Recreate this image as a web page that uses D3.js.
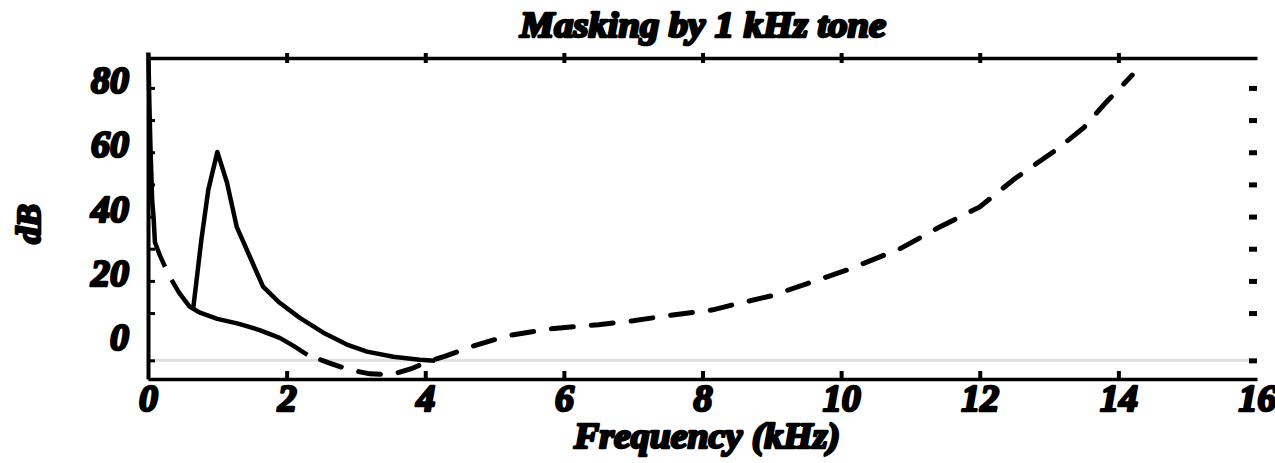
<!doctype html>
<html>
<head>
<meta charset="utf-8">
<title>Masking by 1 kHz tone</title>
<script src="https://cdnjs.cloudflare.com/ajax/libs/d3/7.8.5/d3.min.js"></script>
<style>
  body { margin: 0; background: #fff; }
  svg { display: block; }
  .lbl { font-family: "Liberation Serif", serif; font-weight: bold; font-style: italic; fill: #000; stroke: #000; stroke-width: 2.6px; stroke-linejoin: round; }
</style>
</head>
<body>
<svg id="chart" width="1275" height="463"></svg>
<script>
  /* DATA */
  var xTicks = [0, 2, 4, 6, 8, 10, 12, 14, 16];
  var xTickMarks = [2, 4, 6, 8, 10, 12, 14];
  var yTicks = [0, 20, 40, 60, 80];
  var yTickMarks = [10, 20, 30, 40, 50, 60, 70, 80];
  var greyLevel = -4.7;

  // threshold in quiet (null = gap in the drawn curve)
  var quietFreq = [0.005, 0.02, 0.035, 0.06, 0.08, 0.1, 0.17, 0.245, 0.29, 0.34, 0.45, 0.6, 0.75, 1.0, 1.3, 1.6, 1.9, 2.1, 2.3,
                   2.6, 2.9, 3.2, 3.5, 3.8, 4.0, 4.3, 4.7, 5.2, 5.8, 6.5, 7.0, 7.5, 8.15, 8.5, 9.0, 9.5, 10.1, 10.85, 11.4, 12.0,
                   12.5, 13.1, 13.5, 13.8, 14.2];
  var quietDb = [91, 75, 62, 45, 40, 32, 28, 24.4, null, 20.3, 16.3, 12.0, 10.1, 8.2, 6.7, 4.8, 2.3, -0.2, -3.0,
                 -5.4, -7.6, -8.9, -9.2, -7.3, -5.4, -3.3, -0.2, 3.0, 5.1, 6.4, 7.6, 9.2, 11.0, 12.9, 15.4, 19.1, 23.5, 30.0,
                 36.5, 43.0, 51.7, 60.7, 67.6, 75.0, 84.0];
  var dashFrom = 2.3;   // kHz where the threshold curve turns dashed

  // masking curve of the 1 kHz tone
  var maskFreq = [0.65, 0.77, 0.87, 1.0, 1.14, 1.28, 1.47, 1.66, 1.9, 2.19, 2.53, 2.87, 3.16, 3.54, 3.92, 4.14];
  var maskDb = [11.0, 32.8, 48.3, 60.1, 50.5, 36.8, 27.5, 18.2, 13.2, 8.5, 3.9, 0.2, -2.0, -3.6, -4.5, -4.8];

  var svg = d3.select("#chart");
  var pLeft = 148, pRight = 1257, pTop = 58, pBottom = 379;

  var x = d3.scaleLinear().domain([0, 16]).range([pLeft, pRight]);
  var y = d3.scaleLinear().domain([-10.5, 89.3]).range([pBottom, pTop]);

  // grey reference line
  svg.append("line")
    .attr("x1", x(0)).attr("x2", x(16) - 6)
    .attr("y1", y(greyLevel)).attr("y2", y(greyLevel))
    .style("stroke", "#e0e0e0").style("stroke-width", "3px");

  // bottom axis: line + tick marks
  var bx = svg.append("g").attr("transform", "translate(0," + y(-10.5) + ")")
    .call(d3.axisBottom(x).tickValues(xTickMarks).tickSize(-8).tickSizeOuter(0).tickFormat(""));
  bx.select(".domain").style("stroke", "#000").style("stroke-width", "3.5px");
  bx.selectAll(".tick line").style("stroke", "#000").style("stroke-width", "4px");

  // bottom labels
  var bl = svg.append("g").attr("transform", "translate(0," + y(-10.5) + ")")
    .call(d3.axisBottom(x).tickValues(xTicks).tickSize(0).tickPadding(5));
  bl.select(".domain").remove();
  bl.selectAll("text").attr("class", "lbl").style("font-size", "38px").attr("dy", "0.72em");

  // top axis
  var tx = svg.append("g").attr("transform", "translate(0," + y(89.3) + ")")
    .call(d3.axisTop(x).tickValues(xTickMarks).tickSize(5).tickSizeOuter(0).tickFormat(""));
  tx.select(".domain").style("stroke", "#000").style("stroke-width", "3.5px");
  tx.selectAll(".tick line").attr("y2", 5).attr("y1", -5).style("stroke", "#000").style("stroke-width", "4px");

  // left axis
  var lx = svg.append("g").attr("transform", "translate(" + x(0) + ",0)")
    .call(d3.axisLeft(y).tickValues(yTickMarks.concat([greyLevel])).tickSize(-7).tickSizeOuter(0).tickFormat(""));
  lx.select(".domain").style("stroke", "#000").style("stroke-width", "4px");
  lx.selectAll(".tick line").style("stroke", "#000").style("stroke-width", "3px");

  var ll = svg.append("g").attr("transform", "translate(" + x(0) + ",0)")
    .call(d3.axisLeft(y).tickValues(yTicks).tickSize(0).tickPadding(19));
  ll.select(".domain").remove();
  ll.selectAll("text").attr("class", "lbl").style("font-size", "38px").attr("dy", "0.12em");

  // right tick marks (no line)
  var rx = svg.append("g").attr("transform", "translate(" + x(16) + ",0)")
    .call(d3.axisRight(y).tickValues(yTickMarks.concat([greyLevel])).tickSize(-8).tickSizeOuter(0).tickFormat(""));
  rx.select(".domain").remove();
  rx.selectAll(".tick line").style("stroke", "#000").style("stroke-width", "5px");

  // curves
  var quiet = quietFreq.map(function(f, i) { return {f: f, db: quietDb[i]}; });
  var mask = maskFreq.map(function(f, i) { return {f: f, db: maskDb[i]}; });

  var line = d3.line()
    .defined(function(d) { return d.db !== null; })
    .x(function(d) { return x(d.f); })
    .y(function(d) { return y(d.db); });

  svg.append("path")
    .datum(quiet.filter(function(d) { return d.f <= dashFrom; }))
    .attr("d", line)
    .style("fill", "none").style("stroke", "#000").style("stroke-width", "4.5px")
    .style("stroke-linejoin", "round");

  svg.append("path")
    .datum(quiet.filter(function(d) { return d.f >= dashFrom; }))
    .attr("d", line)
    .style("fill", "none").style("stroke", "#000").style("stroke-width", "5px")
    .style("stroke-dasharray", "22,18").style("stroke-dashoffset", "26")
    .style("stroke-linecap", "round");

  svg.append("path")
    .datum(mask)
    .attr("d", line)
    .style("fill", "none").style("stroke", "#000").style("stroke-width", "4.5px")
    .style("stroke-linejoin", "round");

  // titles
  svg.append("text").attr("class", "lbl")
    .attr("x", 703).attr("y", 37)
    .attr("text-anchor", "middle")
    .attr("textLength", 366).attr("lengthAdjust", "spacingAndGlyphs")
    .style("font-size", "35px")
    .text("Masking by 1 kHz tone");

  svg.append("text").attr("class", "lbl")
    .attr("x", 707).attr("y", 448)
    .attr("text-anchor", "middle")
    .attr("textLength", 266).attr("lengthAdjust", "spacingAndGlyphs")
    .style("font-size", "36px")
    .text("Frequency (kHz)");

  svg.append("text").attr("class", "lbl")
    .attr("transform", "translate(40,224) rotate(-90)")
    .attr("text-anchor", "middle")
    .style("font-size", "34px")
    .text("dB");
</script>
</body>
</html>
